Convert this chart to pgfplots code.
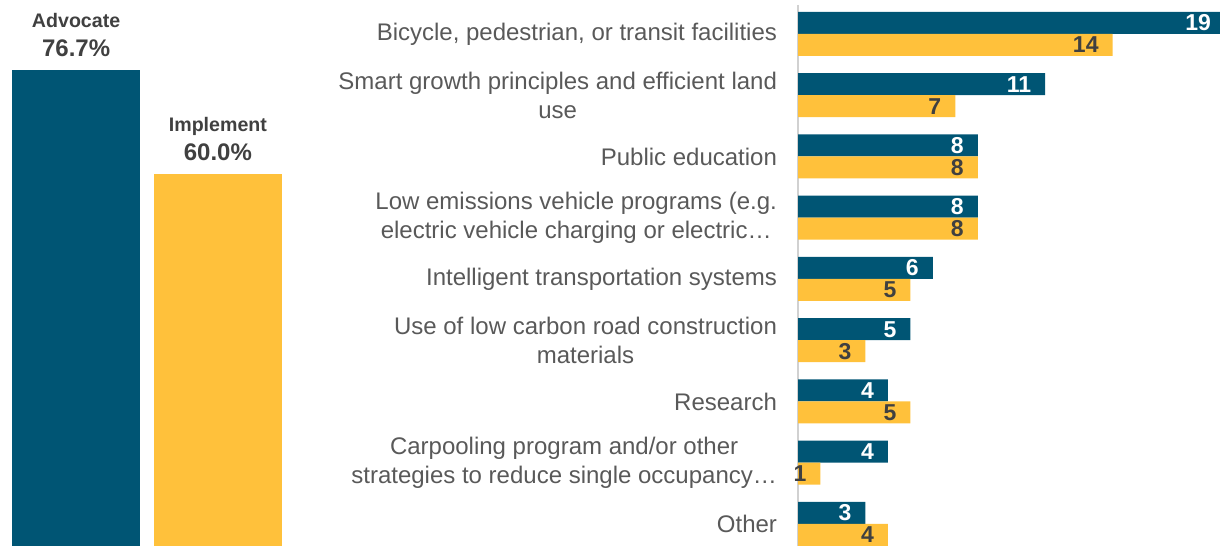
\documentclass[border=0pt]{standalone}
\usepackage{pgfplots}
\pgfplotsset{compat=1.18}
\usepackage{fontspec}
\setmainfont{Liberation Sans}
\definecolor{advblue}{HTML}{005574}
\definecolor{impyellow}{HTML}{FFC13B}
\definecolor{valgray}{HTML}{404040}
\definecolor{labgray}{HTML}{595959}

\begin{document}
\begin{tikzpicture}
\useasboundingbox (0,0) rectangle (610pt,273pt);
% left panel: overall shares
\begin{axis}[
    at={(6pt,0pt)}, anchor=south west,
    scale only axis, width=135pt, height=238pt,
    hide axis, clip=false,
    ybar, bar width=64pt,
    xmin=-0.452, xmax=1.452, ymin=0, ymax=76.7,
    /pgf/number format/assume math mode=true,
    nodes near coords style={anchor=south, yshift=3pt, align=center, text=valgray},
]
    \addplot[fill=advblue, draw=none, bar shift=0pt,
        nodes near coords={{\fontsize{9.8}{13}\selectfont\bfseries Advocate}\\[2.5pt]{\fontsize{12}{13}\selectfont\bfseries\pgfmathprintnumber[fixed,fixed zerofill,precision=1]{\pgfplotspointmeta}\%}}]
        coordinates {(0,76.7)};
    \addplot[fill=impyellow, draw=none, bar shift=0pt,
        nodes near coords={{\fontsize{9.8}{13}\selectfont\bfseries Implement}\\[2.5pt]{\fontsize{12}{13}\selectfont\bfseries\pgfmathprintnumber[fixed,fixed zerofill,precision=1]{\pgfplotspointmeta}\%}}]
        coordinates {(1,60.0)};
\end{axis}
% right panel: counts by strategy
\begin{axis}[
    at={(399pt,0pt)}, anchor=south west,
    scale only axis, width=213.5pt, height=270.5pt,
    xbar, bar width=11pt,
    xmin=0, xmax=19,
    ymin=-0.473, ymax=8.36, y dir=reverse,
    axis x line=none, axis y line=left,
    axis line style={-, draw=black!18, line width=1.3pt},
    ytick={0,...,8},
    yticklabels={
        {Bicycle, pedestrian, or transit facilities},
        {Smart growth principles and efficient land\\use},
        {Public education},
        {Low emissions vehicle programs (e.g.\\electric vehicle charging or electric…},
        {Intelligent transportation systems},
        {Use of low carbon road construction\\materials},
        {Research},
        {Carpooling program and/or other\\strategies to reduce single occupancy…},
        {Other}},
    major tick length=0pt,
    yticklabel style={align=center, font=\fontsize{12}{14.5}\selectfont, text=labgray, xshift=-7pt},
    clip mode=individual,
    /pgf/number format/assume math mode=true,
    nodes near coords,
    nodes near coords style={anchor=east, xshift=-3.5pt, font=\fontsize{11.5}{12}\selectfont\bfseries},
]
    \addplot[fill=advblue, draw=none, bar shift=5.5pt, nodes near coords style={text=white}]
        coordinates {(19,0) (11,1) (8,2) (8,3) (6,4) (5,5) (4,6) (4,7) (3,8)};
    \addplot[fill=impyellow, draw=none, bar shift=-5.5pt, nodes near coords style={text=valgray}]
        coordinates {(14,0) (7,1) (8,2) (8,3) (5,4) (3,5) (5,6) (1,7) (4,8)};
\end{axis}
\end{tikzpicture}
\end{document}
